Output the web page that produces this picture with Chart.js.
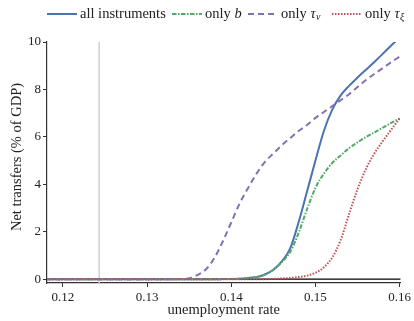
<!DOCTYPE html>
<html>
<head>
<meta charset="utf-8">
<script src="https://cdn.jsdelivr.net/npm/chart.js@4/dist/chart.umd.min.js"></script>
<style>
  html, body { margin: 0; padding: 0; background: #fff; }
  #wrap { width: 414px; height: 321px; }
</style>
</head>
<body>
<div id="wrap"><canvas id="transfersChart" width="414" height="321"></canvas></div>
<script>
// unemployment rate grid
const unemployment = [0.118, 0.12, 0.125, 0.13, 0.132, 0.133, 0.134, 0.135, 0.136, 0.137, 0.138, 0.139,
  0.140, 0.141, 0.142, 0.143, 0.144, 0.145, 0.146, 0.147, 0.148, 0.149,
  0.150, 0.151, 0.152, 0.153, 0.154, 0.155, 0.156, 0.157, 0.158, 0.159, 0.160];

// net transfers (% of GDP)
const allInstruments = [0, 0, 0, 0, 0, 0, 0, 0, 0, 0, 0, 0.005,
  0.01, 0.02, 0.05, 0.09, 0.2, 0.4, 0.75, 1.3, 2.4, 3.7,
  5.0, 6.25, 7.15, 7.75, 8.15, 8.5, 8.83, 9.16, 9.5, 9.85, 10.2];
const onlyB = [0, 0, 0, 0, 0, 0, 0, 0, 0, 0, 0, 0.005,
  0.01, 0.02, 0.05, 0.09, 0.2, 0.4, 0.72, 1.15, 1.95, 2.95,
  3.85, 4.45, 4.9, 5.22, 5.52, 5.77, 5.99, 6.19, 6.39, 6.59, 6.78];
const onlyTauV = [0, 0, 0, 0, 0, 0, 0.01, 0.04, 0.18, 0.42, 0.9, 1.6,
  2.4, 3.2, 3.85, 4.45, 4.95, 5.3, 5.65, 5.95, 6.25, 6.5,
  6.8, 7.05, 7.3, 7.55, 7.8, 8.1, 8.4, 8.65, 8.9, 9.15, 9.38];
const onlyTauXi = [0, 0, 0, 0, 0, 0, 0, 0, 0, 0, 0, 0,
  0, 0, 0, 0, 0, 0.01, 0.03, 0.05, 0.09, 0.15,
  0.27, 0.5, 0.92, 1.65, 2.75, 3.8, 4.65, 5.3, 5.82, 6.3, 6.78];

const xTicks = [0.12, 0.13, 0.14, 0.15, 0.16];
const yTicks = [0, 2, 4, 6, 8, 10];
const markerRate = 0.1243;   // grey vertical line

const SERIF = "'Liberation Serif', 'DejaVu Serif', serif";

function pts(ys) {
  return unemployment.map((x, i) => ({ x: x, y: ys[i] }));
}

function line(data, color, dash, order) {
  return {
    data: pts(data),
    borderColor: color,
    borderWidth: 2,
    borderDash: dash,
    pointRadius: 0,
    fill: false,
    cubicInterpolationMode: 'monotone',
    order: order
  };
}

// legend entries, drawn by hand so the math labels can have subscripts
const legendItems = [
  { x: 47, color: '#4C72B0', dash: [], parts: [['all instruments', 'n']] },
  { x: 172, color: '#55A868', dash: [4.5, 1.5, 1.5, 1.5], parts: [['only ', 'n'], ['b', 'i']] },
  { x: 248, color: '#8172B2', dash: [6, 4], parts: [['only ', 'n'], ['τ', 'i'], ['v', 's']] },
  { x: 332, color: '#C44E52', dash: [1.5, 1.5], parts: [['only ', 'n'], ['τ', 'i'], ['ξ', 's']] }
];

const decorations = {
  id: 'decorations',
  beforeDatasetsDraw(chart) {
    const ctx = chart.ctx;
    const xs = chart.scales.x, ys = chart.scales.y;
    const a = chart.chartArea;
    ctx.save();
    // grey reference line
    const gx = xs.getPixelForValue(markerRate);
    ctx.strokeStyle = '#d0d0d0';
    ctx.lineWidth = 1.5;
    ctx.beginPath();
    ctx.moveTo(gx, a.top);
    ctx.lineTo(gx, a.bottom);
    ctx.stroke();
    // zero line
    const zy = ys.getPixelForValue(0);
    ctx.strokeStyle = '#000';
    ctx.lineWidth = 1.2;
    ctx.beginPath();
    ctx.moveTo(a.left, zy);
    ctx.lineTo(a.right, zy);
    ctx.stroke();
    ctx.restore();
  },
  afterDraw(chart) {
    const ctx = chart.ctx;
    const a = chart.chartArea;
    ctx.save();
    ctx.fillStyle = '#222';
    ctx.textBaseline = 'middle';
    // axis titles
    ctx.font = '14.5px ' + SERIF;
    ctx.textAlign = 'center';
    ctx.fillText('unemployment rate', (a.left + a.right) / 2, 310);
    ctx.save();
    ctx.translate(17, 157);
    ctx.rotate(-Math.PI / 2);
    ctx.fillText('Net transfers (% of GDP)', 0, 0);
    ctx.restore();

    // legend
    const ly = 14;
    ctx.textAlign = 'left';
    legendItems.forEach(item => {
      ctx.strokeStyle = item.color;
      ctx.lineWidth = 2;
      ctx.setLineDash(item.dash);
      ctx.beginPath();
      ctx.moveTo(item.x, ly);
      ctx.lineTo(item.x + 30, ly);
      ctx.stroke();
      ctx.setLineDash([]);
      let tx = item.x + 33;
      item.parts.forEach(p => {
        let dy = 0;
        if (p[1] === 'n') ctx.font = '14.5px ' + SERIF;
        else if (p[1] === 'i') ctx.font = 'italic 14.5px ' + SERIF;
        else { ctx.font = 'italic 10px ' + SERIF; dy = 3; }
        ctx.fillText(p[0], tx, ly + dy);
        tx += ctx.measureText(p[0]).width + (p[1] === 'i' ? 0.5 : 0);
      });
    });
    ctx.restore();
  }
};

new Chart(document.getElementById('transfersChart'), {
  type: 'line',
  data: {
    datasets: [
      line(allInstruments, '#4C72B0', [], 4),
      line(onlyB, '#55A868', [4.5, 1.5, 1.5, 1.5], 3),
      line(onlyTauV, '#8172B2', [6, 4], 2),
      line(onlyTauXi, '#C44E52', [1.5, 1.5], 1)
    ]
  },
  options: {
    responsive: false,
    animation: false,
    layout: { padding: { top: 42, right: 13, left: 0, bottom: 0 } },
    plugins: {
      legend: { display: false },
      tooltip: { enabled: false }
    },
    scales: {
      x: {
        type: 'linear',
        min: 0.1181,
        max: 0.1601,
        afterBuildTicks: s => { s.ticks = xTicks.map(v => ({ value: v })); },
        afterFit: s => { s.height = 321 - 283; },
        border: { color: '#333', width: 1.2 },
        grid: { drawOnChartArea: false, tickLength: 4, color: '#333', tickWidth: 1 },
        ticks: {
          color: '#222',
          padding: 3,
          maxRotation: 0,
          font: { family: SERIF, size: 13 },
          callback: v => v.toFixed(2)
        }
      },
      y: {
        min: -0.16,
        max: 10,
        afterBuildTicks: s => { s.ticks = yTicks.map(v => ({ value: v })); },
        afterFit: s => { s.width = 47; },
        border: { color: '#333', width: 1.2 },
        grid: { drawOnChartArea: false, tickLength: 4, color: '#333', tickWidth: 1 },
        ticks: {
          color: '#222',
          padding: 2,
          font: { family: SERIF, size: 13 }
        }
      }
    }
  },
  plugins: [decorations]
});
</script>
</body>
</html>
